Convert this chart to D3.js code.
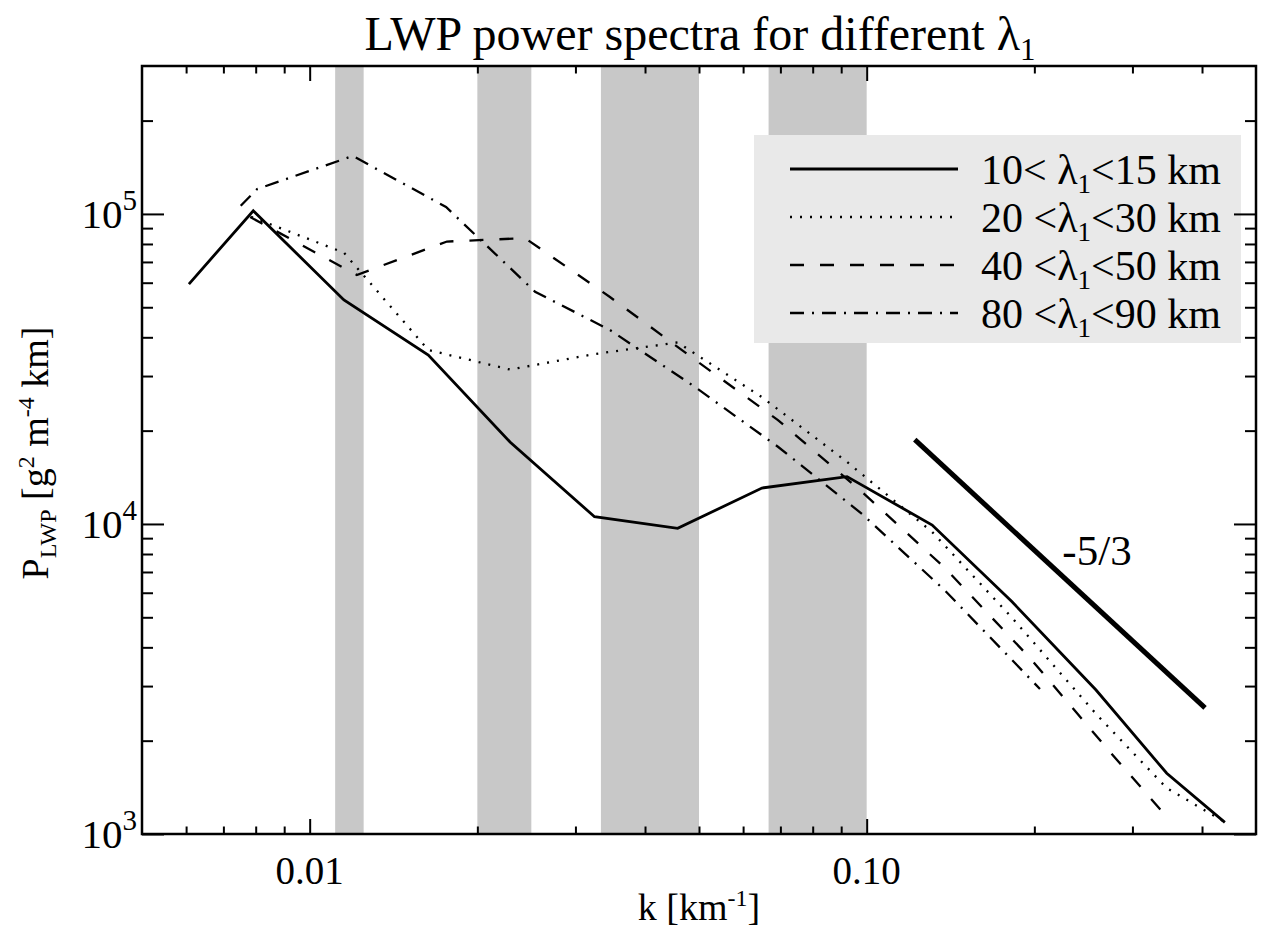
<!DOCTYPE html>
<html>
<head>
<meta charset="utf-8">
<script src="https://cdn.jsdelivr.net/npm/d3@7"></script>
<style>
  body { margin: 0; background: #fff; }
  text { font-family: "Liberation Serif", "Times New Roman", serif; fill: #000; }
</style>
</head>
<body>
<svg width="1262" height="936"></svg>
<script>
// wavenumber grids (km^-1) and spectra (g^2 m^-4 km)
const kSolid = [0.00607, 0.00792, 0.01152, 0.01633, 0.02289, 0.03246, 0.04578, 0.06486, 0.0922, 0.1311, 0.1824, 0.2581, 0.3457, 0.4396];
const pSolid = [59400, 102400, 52770, 35060, 18380, 10550, 9680, 13060, 14210, 9920, 5610, 2913, 1570, 1090];

const kDotted = [0.00785, 0.01152, 0.01633, 0.02289, 0.03246, 0.04578, 0.06486, 0.0922, 0.1311, 0.1824, 0.2581, 0.3457, 0.4396];
const pDotted = [97900, 74980, 36400, 31480, 35320, 38500, 25640, 15850, 9420, 4980, 2439, 1406, 1093];

const kDashed = [0.00782, 0.01215, 0.01764, 0.02436, 0.0346, 0.04898, 0.0693, 0.0981, 0.1382, 0.1964, 0.2734, 0.3457];
const pDashed = [97700, 63540, 81470, 83560, 53950, 34040, 21630, 12680, 7210, 3696, 1839, 1137];

const kDashDot = [0.00752, 0.00805, 0.01195, 0.01757, 0.02539, 0.0346, 0.04898, 0.0693, 0.0981, 0.1382, 0.2047];
const pDashDot = [106300, 120300, 153800, 105300, 56100, 42230, 27800, 17740, 10770, 6100, 2936];

// shaded k ranges, k = 1/lambda for each lambda_1 range
const bandLo = [1/90, 1/50, 1/30, 1/15];
const bandHi = [1/80, 1/40, 1/20, 1/10];

// -5/3 reference line
const refK = [0.122, 0.405];
const refP = [18700, 2550];

const legendLabels = ["10< λ", "20 <λ", "40 <λ", "80 <λ"];
const legendTails = ["<15 km", "<30 km", "<50 km", "<90 km"];
const dashes = [null, "2,8", "14,16", "14,8,2,8"];

const xMajor = [0.01, 0.1];
const xMajorLabels = ["0.01", "0.10"];
const xMinor = [0.006, 0.007, 0.008, 0.009, 0.02, 0.03, 0.04, 0.05, 0.06, 0.07, 0.08, 0.09, 0.2, 0.3, 0.4];
const yMajor = [1e3, 1e4, 1e5];
const yMajorExp = ["3", "4", "5"];
const yMinor = [2e3, 3e3, 4e3, 5e3, 6e3, 7e3, 8e3, 9e3, 2e4, 3e4, 4e4, 5e4, 6e4, 7e4, 8e4, 9e4, 2e5];

const margin = {top: 66, right: 6, bottom: 102, left: 142},
    width = 1262 - margin.left - margin.right,
    height = 936 - margin.top - margin.bottom;

const svg = d3.select("svg");
const g = svg.append("g")
    .attr("transform", `translate(${margin.left},${margin.top})`);

const x = d3.scaleLog().domain([0.005, 0.5]).range([0, width]);
const y = d3.scaleLog().domain([1e3, 3e5]).range([height, 0]);

// grey bands
g.selectAll("rect.band")
  .data(bandLo.map((lo, i) => [lo, bandHi[i]]))
  .enter().append("rect")
    .attr("class", "band")
    .attr("x", d => x(d[0]))
    .attr("y", 0)
    .attr("width", d => x(d[1]) - x(d[0]))
    .attr("height", height)
    .attr("fill", "#c8c8c8");

// legend box (sits over the last band)
const legX = 754 - margin.left, legY = 135 - margin.top;
g.append("rect")
    .attr("x", legX).attr("y", legY)
    .attr("width", 487).attr("height", 208)
    .attr("fill", "#e9e9e9");

// spectra
const line = d3.line().x(d => x(d[0])).y(d => y(d[1]));
const series = [[kSolid, pSolid], [kDotted, pDotted], [kDashed, pDashed], [kDashDot, pDashDot]];
series.forEach((s, i) => {
  g.append("path")
      .datum(s[0].map((k, j) => [k, s[1][j]]))
      .attr("d", line)
      .attr("fill", "none")
      .attr("stroke", "#000")
      .attr("stroke-width", i === 0 ? 2.8 : 2.3)
      .attr("stroke-dasharray", dashes[i]);
});

// reference slope
g.append("path")
    .datum(refK.map((k, j) => [k, refP[j]]))
    .attr("d", line)
    .attr("fill", "none")
    .attr("stroke", "#000")
    .attr("stroke-width", 5);

g.append("text")
    .attr("x", 1097 - margin.left)
    .attr("y", 565 - margin.top)
    .attr("text-anchor", "middle")
    .style("font-size", "43px")
    .text("-5/3");

// legend entries
legendLabels.forEach((lab, i) => {
  const ry = 169 - margin.top + i * 48;
  g.append("line")
      .attr("x1", 790 - margin.left).attr("x2", 958 - margin.left)
      .attr("y1", ry).attr("y2", ry)
      .attr("stroke", "#000")
      .attr("stroke-width", i === 0 ? 2.8 : 2.3)
      .attr("stroke-dasharray", dashes[i]);
  const t = g.append("text")
      .attr("x", 981 - margin.left)
      .attr("y", ry + 15)
      .style("font-size", "42px");
  t.append("tspan").text(lab);
  t.append("tspan").attr("dy", 9).style("font-size", "27px").text("1");
  t.append("tspan").attr("dy", -9).text(legendTails[i]);
});

// ticks on all four sides, pointing inward
function ticks(axis, vals, len, tx, ty) {
  const a = g.append("g")
      .attr("transform", `translate(${tx},${ty})`)
      .call(axis.tickValues(vals).tickSize(-len).tickFormat(""));
  a.select(".domain").remove();
  a.selectAll("line").attr("stroke-width", 2);
}
ticks(d3.axisBottom(x), xMajor, 15, 0, height);
ticks(d3.axisBottom(x), xMinor, 7.5, 0, height);
ticks(d3.axisTop(x), xMajor, 15, 0, 0);
ticks(d3.axisTop(x), xMinor, 7.5, 0, 0);
ticks(d3.axisLeft(y), yMajor, 22, 0, 0);
ticks(d3.axisLeft(y), yMinor, 11, 0, 0);
ticks(d3.axisRight(y), yMajor, 22, width, 0);
ticks(d3.axisRight(y), yMinor, 11, width, 0);

// frame
g.append("rect")
    .attr("width", width).attr("height", height)
    .attr("fill", "none")
    .attr("stroke", "#000")
    .attr("stroke-width", 2.5);

// tick labels
g.selectAll("text.xl")
  .data(xMajor)
  .enter().append("text")
    .attr("class", "xl")
    .attr("x", d => x(d))
    .attr("y", height + 50)
    .attr("text-anchor", "middle")
    .style("font-size", "39px")
    .text((d, i) => xMajorLabels[i]);

yMajor.forEach((v, i) => {
  const t = g.append("text")
      .attr("x", -5)
      .attr("y", y(v) + 14)
      .attr("text-anchor", "end")
      .style("font-size", "41px");
  t.append("tspan").text("10");
  t.append("tspan").attr("dy", -18).style("font-size", "29px").text(yMajorExp[i]);
});

// axis titles
const xt = svg.append("text")
    .attr("x", margin.left + x(0.05))
    .attr("y", 920)
    .attr("text-anchor", "middle")
    .style("font-size", "38px");
xt.append("tspan").text("k [km");
xt.append("tspan").attr("dy", -14).style("font-size", "24px").text("-1");
xt.append("tspan").attr("dy", 14).text("]");

const yt = svg.append("text")
    .attr("transform", "translate(48,453) rotate(-90)")
    .attr("text-anchor", "middle")
    .style("font-size", "38px");
yt.append("tspan").text("P");
yt.append("tspan").attr("dy", 8).style("font-size", "24px").text("LWP");
yt.append("tspan").attr("dy", -8).text(" [g");
yt.append("tspan").attr("dy", -14).style("font-size", "24px").text("2");
yt.append("tspan").attr("dy", 14).text(" m");
yt.append("tspan").attr("dy", -14).style("font-size", "24px").text("-4");
yt.append("tspan").attr("dy", 14).text(" km]");

const title = svg.append("text")
    .attr("x", 700)
    .attr("y", 50)
    .attr("text-anchor", "middle")
    .style("font-size", "48px");
title.append("tspan").text("LWP power spectra for different λ");
title.append("tspan").attr("dy", 10).style("font-size", "31px").text("1");
</script>
</body>
</html>
